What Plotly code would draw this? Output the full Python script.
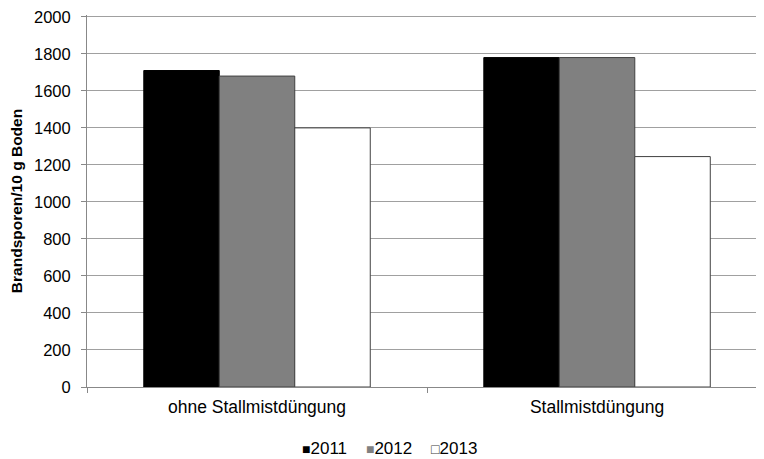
import plotly.graph_objects as go

categories = ["ohne Stallmistdüngung", "Stallmistdüngung"]
years = ["2011", "2012", "2013"]
values_2011 = [1710, 1780]
values_2012 = [1680, 1780]
values_2013 = [1400, 1245]
y_ticks = [0, 200, 400, 600, 800, 1000, 1200, 1400, 1600, 1800, 2000]

series = [values_2011, values_2012, values_2013]
fills = ["#000000", "#808080", "#ffffff"]
lines = ["#000000", "#404040", "#404040"]

fig = go.Figure()
for name, vals, fc, lc in zip(years, series, fills, lines):
    fig.add_trace(go.Bar(
        x=categories, y=vals, name=name, showlegend=False,
        marker=dict(color=fc, line=dict(color=lc, width=1)),
    ))

# legend drawn as text: square glyph + year
glyphs = ["■", "■", "□"]
glyph_colors = ["#000000", "#808080", "#404040"]
parts = []
for g, gc, yr in zip(glyphs, glyph_colors, years):
    parts.append(f"<span style='font-size:14px;color:{gc}'>{g}</span>{yr}")
legend_text = "&nbsp;&nbsp;&nbsp;&nbsp;".join(parts)

fig.add_annotation(
    text=legend_text, xref="paper", yref="paper", x=0.4468, y=-0.1664,
    xanchor="center", yanchor="middle", showarrow=False,
    font=dict(size=17, color="#000000"),
)

fig.update_layout(
    width=756, height=451,
    margin=dict(l=79, r=0, t=5, b=72),
    paper_bgcolor="white", plot_bgcolor="white",
    barmode="group", bargap=0.334, bargroupgap=0,
    font=dict(family="Liberation Sans", size=16.5, color="#000000"),
    showlegend=False,
    xaxis=dict(
        range=[-0.5, 1.491], showline=True, linecolor="#888888", linewidth=1,
        ticks="outside", tickson="boundaries", ticklen=5, tickcolor="#888888",
        showgrid=False, tickfont=dict(size=17.5), ticklabelstandoff=4,
    ),
    yaxis=dict(
        range=[0, 2010], tickvals=y_ticks,
        showline=True, linecolor="#888888", linewidth=1,
        ticks="outside", ticklen=5, tickcolor="#888888",
        showgrid=True, gridcolor="#a0a0a0", gridwidth=1, zeroline=False,
        title=dict(text="<b>Brandsporen/10 g Boden</b>", font=dict(size=15.5), standoff=10),
        tickfont=dict(size=16.5), ticklabelstandoff=7, ticklabeloverflow="allow",
    ),
)

fig.write_html("out.html")
